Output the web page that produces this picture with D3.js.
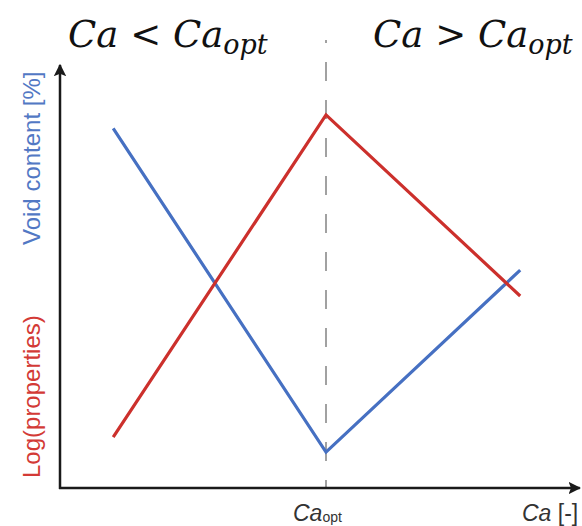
<!DOCTYPE html>
<html><head><meta charset="utf-8">
<script src="https://cdn.jsdelivr.net/npm/d3@7"></script>
<style>body{margin:0;background:#fff}svg{display:block}</style>
</head><body>
<svg id="chart" width="582" height="526"></svg>
<script>
// data
const caValues = [1.0, 5.0, 8.65];          // Ca positions (Ca_opt = 5)
const voidContent = [8.5, 0.85, 5.15];     // blue series
const logProperties = [1.2, 8.82, 4.54];    // red series
const caOpt = 5.0;
const xLabels = ["Ca", "opt"];
const yLabels = ["Void content [%]", "Log(properties)"];

const svg = d3.select("#chart");
const x = d3.scaleLinear().domain([0, 10]).range([60, 592]);
const y = d3.scaleLinear().domain([0, 10]).range([488, 65]);

const defs = svg.append("defs");
defs.append("marker").attr("id","arr").attr("viewBox","0 0 10 10")
  .attr("refX",9).attr("refY",5).attr("markerWidth",5).attr("markerHeight",6)
  .attr("markerUnits","strokeWidth").attr("orient","auto")
  .append("path").attr("d","M0,0L10,5L0,10L2,5Z").attr("fill","#1a1a1a");

// dashed Ca_opt line
svg.append("line")
  .attr("x1", x(caOpt)).attr("x2", x(caOpt))
  .attr("y1", 40).attr("y2", y(0))
  .attr("stroke","#8a8a8a").attr("stroke-width",1.6)
  .attr("stroke-dasharray","19 19").attr("stroke-dashoffset",16);

// axes
const xAxis = d3.axisBottom(x).tickValues([]).tickSizeOuter(0);
const gx = svg.append("g").attr("transform",`translate(0,${y(0)})`).call(xAxis);
gx.select(".domain").attr("d", `M${x(0)-1},0H${x(9.77)}`)
  .attr("stroke","#1a1a1a").attr("stroke-width",2.5).attr("marker-end","url(#arr)");
const yAxis = d3.axisLeft(y).tickValues([]).tickSizeOuter(0);
const gy = svg.append("g").attr("transform",`translate(${x(0)},0)`).call(yAxis);
gy.select(".domain").attr("d", `M0,${y(0)+1}V${y(10)}`)
  .attr("stroke","#1a1a1a").attr("stroke-width",2.5).attr("marker-end","url(#arr)");

// series
const line = d3.line().x((d,i)=>x(caValues[i])).y(d=>y(d));
svg.append("path").datum(voidContent).attr("d",line)
  .attr("fill","none").attr("stroke","#4670c2").attr("stroke-width",3.2);
svg.append("path").datum(logProperties).attr("d",line)
  .attr("fill","none").attr("stroke","#cc302c").attr("stroke-width",3.2);

// y labels
svg.append("text").attr("transform","translate(40,245) rotate(-90)")
  .attr("font-family","Liberation Sans, Arial, sans-serif").attr("font-size",24)
  .attr("fill","#5278c4").text(yLabels[0]);
svg.append("text").attr("transform","translate(40,478) rotate(-90)")
  .attr("font-family","Liberation Sans, Arial, sans-serif").attr("font-size",24)
  .attr("fill","#d33a36").text(yLabels[1]);

// x labels
const t1 = svg.append("text").attr("x",293).attr("y",521)
  .attr("font-family","Liberation Sans, Arial, sans-serif").attr("fill","#333");
t1.append("tspan").attr("font-size",23).attr("font-style","italic").text(xLabels[0]);
t1.append("tspan").attr("font-size",14).attr("dy",1).text(xLabels[1]);
const t2 = svg.append("text").attr("x",522).attr("y",521)
  .attr("font-family","Liberation Sans, Arial, sans-serif").attr("fill","#333").attr("font-size",23);
t2.append("tspan").attr("font-style","italic").text("Ca");
t2.append("tspan").text(" [-]");

// top region labels
function regionLabel(x0, sym){
  const t = svg.append("text").attr("x",x0).attr("y",47)
    .attr("font-family","DejaVu Serif, serif").attr("fill","#111");
  t.append("tspan").attr("font-size",37).attr("font-style","italic").text("Ca");
  t.append("tspan").attr("font-size",37).text(" " + sym + " ");
  t.append("tspan").attr("font-size",37).attr("font-style","italic").text("Ca");
  t.append("tspan").attr("font-size",27).attr("font-style","italic").attr("dy",7).text("opt");
}
regionLabel(68, "<");
regionLabel(373, ">");
</script>
</body></html>
